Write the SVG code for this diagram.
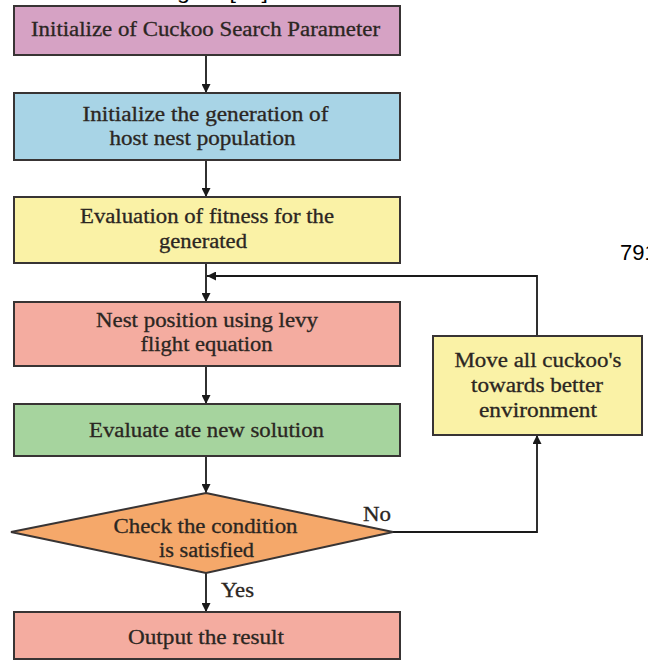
<svg xmlns="http://www.w3.org/2000/svg" width="648" height="661" viewBox="0 0 648 661">
<defs>
<marker id="ah" viewBox="0 0 10 10" refX="10" refY="5" markerWidth="9" markerHeight="9" markerUnits="userSpaceOnUse" orient="auto">
<path d="M0,0 L10,5 L0,10 z" fill="#1a1a1a"/>
</marker>
<style>
.box{stroke:#383434;stroke-width:2}
.t{font-family:"Liberation Serif","Times New Roman",serif;font-size:20px;fill:#2b2622;stroke:#2b2622;stroke-width:0.3;text-anchor:middle}
.lbl{font-family:"Liberation Serif","Times New Roman",serif;font-size:20px;fill:#2b2622;stroke:#2b2622;stroke-width:0.3}
.c{fill:none;stroke:#1a1a1a;stroke-width:1.8}
.page{font-family:"Liberation Sans",Arial,sans-serif;fill:#000}
</style>
</defs>
<rect width="648" height="661" fill="#fff"/>
<text class="page" x="177" y="-1" font-size="20" textLength="91" lengthAdjust="spacingAndGlyphs">gure [10]</text>
<text class="page" x="620" y="260" font-size="22">791</text>
<g id="connectors">
<line class="c" x1="206" y1="55" x2="206" y2="93" marker-end="url(#ah)"/>
<line class="c" x1="206" y1="160" x2="206" y2="197" marker-end="url(#ah)"/>
<line class="c" x1="206" y1="263" x2="206" y2="302" marker-end="url(#ah)"/>
<line class="c" x1="206" y1="366" x2="206" y2="404" marker-end="url(#ah)"/>
<line class="c" x1="206" y1="456" x2="206" y2="493" marker-end="url(#ah)"/>
<line class="c" x1="206" y1="573" x2="206" y2="612" marker-end="url(#ah)"/>
<polyline class="c" points="393,532 537,532 537,435" marker-end="url(#ah)"/>
<polyline class="c" points="537,336 537,276 207,276" marker-end="url(#ah)"/>
</g>
<g id="n1">
<rect class="box" x="14" y="6" width="386" height="49" fill="#d6a2c4"/>
<text class="t" x="205.5" y="36" textLength="349" lengthAdjust="spacingAndGlyphs">Initialize of Cuckoo Search Parameter</text>
</g>
<g id="n2">
<rect class="box" x="14" y="93" width="386" height="67" fill="#a8d4e6"/>
<text class="t" x="205.5" y="121" textLength="246" lengthAdjust="spacingAndGlyphs">Initialize the generation of</text>
<text class="t" x="202.5" y="145" textLength="186" lengthAdjust="spacingAndGlyphs">host nest population</text>
</g>
<g id="n3">
<rect class="box" x="14" y="197" width="386" height="66" fill="#faf2a6"/>
<text class="t" x="207" y="223" textLength="254" lengthAdjust="spacingAndGlyphs">Evaluation of fitness for the</text>
<text class="t" x="203" y="248" textLength="88" lengthAdjust="spacingAndGlyphs">generated</text>
</g>
<g id="n4">
<rect class="box" x="14" y="302" width="386" height="64" fill="#f4aca0"/>
<text class="t" x="207" y="327" textLength="222" lengthAdjust="spacingAndGlyphs">Nest position using levy</text>
<text class="t" x="206.6" y="351" textLength="132" lengthAdjust="spacingAndGlyphs">flight equation</text>
</g>
<g id="n5">
<rect class="box" x="14" y="404" width="386" height="52" fill="#a6d49e"/>
<text class="t" x="206.5" y="437" textLength="235" lengthAdjust="spacingAndGlyphs">Evaluate ate new solution</text>
</g>
<g id="n6">
<polygon class="box" points="206,493 393,532 206,573 11,532" fill="#f5a86a"/>
<text class="t" x="205.5" y="533" textLength="184" lengthAdjust="spacingAndGlyphs">Check the condition</text>
<text class="t" x="206.5" y="557" textLength="95" lengthAdjust="spacingAndGlyphs">is satisfied</text>
</g>
<g id="n7">
<rect class="box" x="14" y="612" width="386" height="47" fill="#f4aca0"/>
<text class="t" x="206" y="644" textLength="156" lengthAdjust="spacingAndGlyphs">Output the result</text>
</g>
<g id="n8">
<rect class="box" x="433" y="336" width="209" height="99" fill="#faf2a6"/>
<text class="t" x="538" y="367" textLength="167" lengthAdjust="spacingAndGlyphs">Move all cuckoo's</text>
<text class="t" x="537" y="392" textLength="132" lengthAdjust="spacingAndGlyphs">towards better</text>
<text class="t" x="538" y="417" textLength="118" lengthAdjust="spacingAndGlyphs">environment</text>
</g>
<g id="labels">
<text class="lbl" x="363" y="521" textLength="28" lengthAdjust="spacingAndGlyphs">No</text>
<text class="lbl" x="221" y="597" textLength="33" lengthAdjust="spacingAndGlyphs">Yes</text>
</g>
</svg>
